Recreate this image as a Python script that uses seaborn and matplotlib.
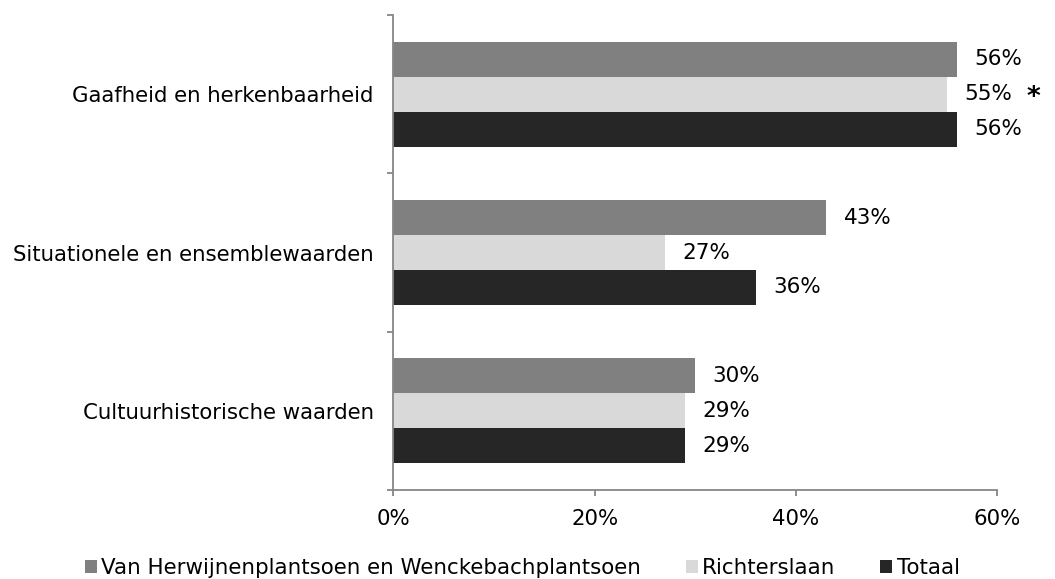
import matplotlib
matplotlib.use("Agg")
import matplotlib.pyplot as plt
import seaborn as sns
import pandas as pd

# Data
categories = ["Gaafheid en herkenbaarheid",
              "Situationele en ensemblewaarden",
              "Cultuurhistorische waarden"]
series = ["Van Herwijnenplantsoen en Wenckebachplantsoen", "Richterslaan", "Totaal"]
van_herwijnen = [56, 43, 30]
richterslaan = [55, 27, 29]
totaal = [56, 36, 29]
xticks = [0, 20, 40, 60]

colors = ["#808080", "#d9d9d9", "#262626"]

# Long format for seaborn
df = pd.DataFrame({
    "Categorie": categories * 3,
    "Reeks": [series[0]] * 3 + [series[1]] * 3 + [series[2]] * 3,
    "Waarde": van_herwijnen + richterslaan + totaal,
})

sns.set_style("white")
plt.rcParams["font.family"] = ["DejaVu Sans"]
plt.rcParams["text.color"] = "black"
plt.rcParams["xtick.labelcolor"] = "black"
plt.rcParams["ytick.labelcolor"] = "black"

fig = plt.figure(figsize=(10.55, 5.79), dpi=100)
ax = fig.add_axes([0.3728, 0.1537, 0.5725, 0.8204])

sns.barplot(data=df, y="Categorie", x="Waarde", hue="Reeks", order=categories,
            hue_order=series, palette=colors, orient="h", width=0.663, gap=0,
            saturation=1, errorbar=None, linewidth=0, ax=ax)

ax.set_xlim(0, 60)
ax.set_ylim(2.5, -0.5)
ax.set_xticks(xticks)
ax.set_xticklabels([f"{t}%" for t in xticks])
ax.set_yticks([-0.5, 0.5, 1.5, 2.5], minor=False)
ax.set_yticks([0, 1, 2], minor=True)
ax.set_yticklabels([], minor=False)
ax.set_yticklabels(categories, minor=True)
ax.set_xlabel("")
ax.set_ylabel("")

spine_color = "#868686"
for s in ["top", "right"]:
    ax.spines[s].set_visible(False)
for s in ["left", "bottom"]:
    ax.spines[s].set_color(spine_color)
    ax.spines[s].set_linewidth(1.3)

ax.tick_params(axis="x", which="major", direction="out", length=4, width=1.3,
               color=spine_color, labelsize=15.3, pad=10, bottom=True)
ax.tick_params(axis="y", which="major", direction="out", length=4.5, width=1.3,
               color=spine_color, left=True)
ax.tick_params(axis="y", which="minor", length=0, labelsize=15.3, pad=14)

# Value labels
for cont in ax.containers:
    ax.bar_label(cont, labels=[f"{v:.0f}%" for v in cont.datavalues],
                 padding=12.5, fontsize=15.5)

# Significance marker next to the Richterslaan bar of the first category
star_bar = ax.containers[1][0]
ax.annotate("*", xy=(star_bar.get_width(), star_bar.get_y() + star_bar.get_height() / 2),
            xytext=(57, -3), textcoords="offset points", va="center", ha="left",
            fontsize=19, fontweight="bold")

leg = ax.legend(loc="center", bbox_to_anchor=(0.495, 0.019), bbox_transform=fig.transFigure,
                ncol=3, frameon=False, fontsize=15.4, handlelength=0.56, handleheight=0.6,
                handletextpad=0.2, columnspacing=2.1)

fig.savefig("out.png", dpi=100)
